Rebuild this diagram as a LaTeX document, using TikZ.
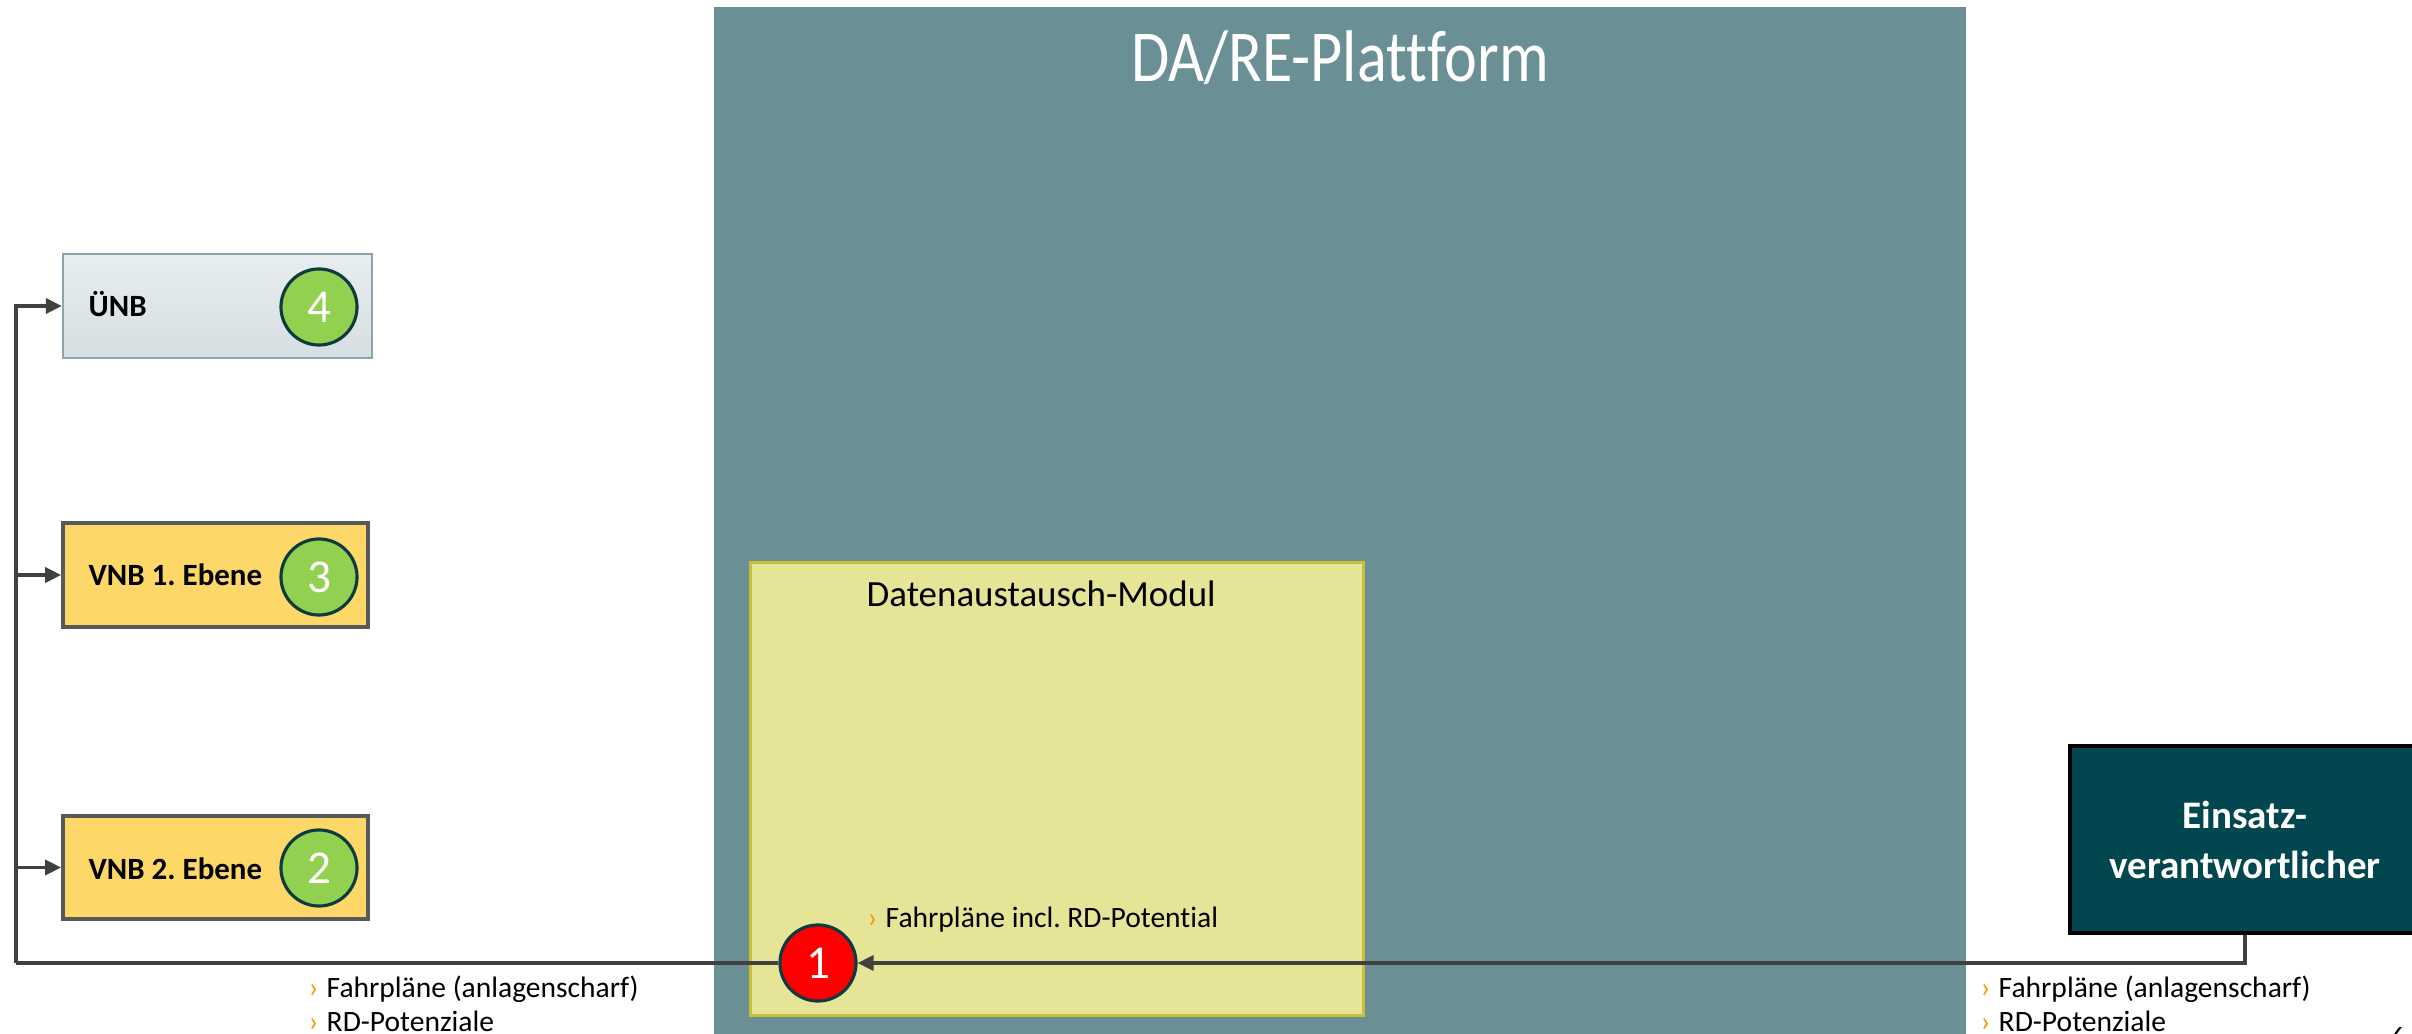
\documentclass[tikz,border=0pt]{standalone}
\usepackage{fontspec}
\setmainfont{Carlito}[Ligatures=NoCommon]
\newfontfamily\titlefont{Carlito}[FakeStretch=0.85,Ligatures=NoCommon]
\frenchspacing
\usetikzlibrary{arrows.meta}
\definecolor{platcol}{HTML}{6A9096}
\definecolor{modfill}{HTML}{E6E497}
\definecolor{moddraw}{HTML}{C9C036}
\definecolor{vnbfill}{HTML}{FDD868}
\definecolor{vnbdraw}{HTML}{595959}
\definecolor{unbtop}{HTML}{E8EEF0}
\definecolor{unbbot}{HTML}{D5DEE1}
\definecolor{unbdraw}{HTML}{8AA6AA}
\definecolor{greencirc}{HTML}{92D050}
\definecolor{circdraw}{HTML}{0E3B40}
\definecolor{evfill}{HTML}{02474F}
\definecolor{conncol}{HTML}{404040}
\definecolor{bulletorange}{HTML}{F59B00}
\tikzset{
  conn/.style={draw=conncol, line width=1pt, -{Triangle[length=0.16cm,width=0.15cm]}},
  connplain/.style={draw=conncol, line width=1pt},
  lbox/.style={rectangle, inner sep=0pt, minimum height=1.04cm},
  lbl/.style={inner sep=0pt, anchor=base west, font=\fontsize{8.8pt}{10pt}\selectfont\bfseries},
  numcirc/.style={circle, inner sep=0pt, minimum size=0.76cm, draw=circdraw, line width=0.9pt, text=white, font=\fontsize{13.4pt}{14pt}\selectfont},
  bul/.style={inner sep=0pt, anchor=base west, font=\fontsize{8.4pt}{10pt}\selectfont},
}
\newcommand{\chev}{\makebox[0.18cm][l]{\textcolor{bulletorange}{›}}}
\begin{document}
\begin{tikzpicture}[x=0.01cm,y=-0.01cm]
\useasboundingbox (0,0) rectangle (2412,1034);
% platform
\node[rectangle, fill=platcol, inner sep=0pt, minimum width=12.52cm, minimum height=10.38cm] (plat) at (1340,526) {};
\node[inner sep=0pt, anchor=base, text=white, font=\titlefont\fontsize{20.8pt}{22pt}\selectfont] (plattitle) at (1340,82) {DA/RE-Plattform};
% module
\node[rectangle, fill=modfill, draw=moddraw, line width=0.8pt, inner sep=0pt, minimum width=6.12cm, minimum height=4.52cm] (mod) at (1057,789) {};
\node[inner sep=0pt, anchor=base west, font=\fontsize{10.5pt}{12pt}\selectfont] (modtitle) at (866,607) {Datenaustausch-Modul};
\node[bul] (modbul) at (867,927) {\chev Fahrpläne incl. RD-Potential};
% left boxes
\node[lbox, top color=unbtop, bottom color=unbbot, draw=unbdraw, line width=0.6pt, minimum width=3.09cm] (unb) at (217.5,306) {};
\node[lbox, fill=vnbfill, draw=vnbdraw, line width=1pt, minimum width=3.05cm] (vnb1) at (215.5,575) {};
\node[lbox, fill=vnbfill, draw=vnbdraw, line width=1pt, minimum width=3.05cm, minimum height=1.03cm] (vnb2) at (215.5,867.5) {};
\node[lbl] (unbl) at (88,317) {ÜNB};
\node[lbl] (vnb1l) at (88,586) {VNB 1. Ebene};
\node[lbl] (vnb2l) at (88,879) {VNB 2. Ebene};
\node[numcirc, fill=greencirc] (c4) at (319,307) {4};
\node[numcirc, fill=greencirc] (c3) at (319,577) {3};
\node[numcirc, fill=greencirc] (c2) at (319,868) {2};
% red circle
\node[numcirc, fill=red] (c1) at (818,963) {1};
% Einsatzverantwortlicher
\node[rectangle, fill=evfill, draw=black, line width=1.1pt, inner sep=0pt, minimum width=3.5cm, minimum height=1.87cm, text=white, align=center, font=\fontsize{11.1pt}{14.2pt}\selectfont\bfseries] (ev) at (2245,839.5) {Einsatz-\\verantwortlicher};
% connectors
\coordinate (bus) at (16,963);
\draw[connplain] (c1.west) -- (bus);
\draw[conn] (bus) |- (unb.west);
\draw[conn] (bus) |- (vnb1.west);
\draw[conn] (bus) |- (vnb2.west);
\draw[conn] (ev.south) |- (c1.east);
% bullets
\node[bul] (lb1) at (308,997) {\chev Fahrpläne (anlagenscharf)};
\node[bul] (lb2) at (308,1031) {\chev RD-Potenziale};
\node[bul] (rb1) at (1980,997) {\chev Fahrpläne (anlagenscharf)};
\node[bul] (rb2) at (1980,1031) {\chev RD-Potenziale};
% page number (cut off at the page edge, as in the original)
\node[inner sep=0pt, anchor=north, font=\fontsize{8pt}{9pt}\selectfont] (pnum) at (2398,1027) {6};
\end{tikzpicture}
\end{document}
